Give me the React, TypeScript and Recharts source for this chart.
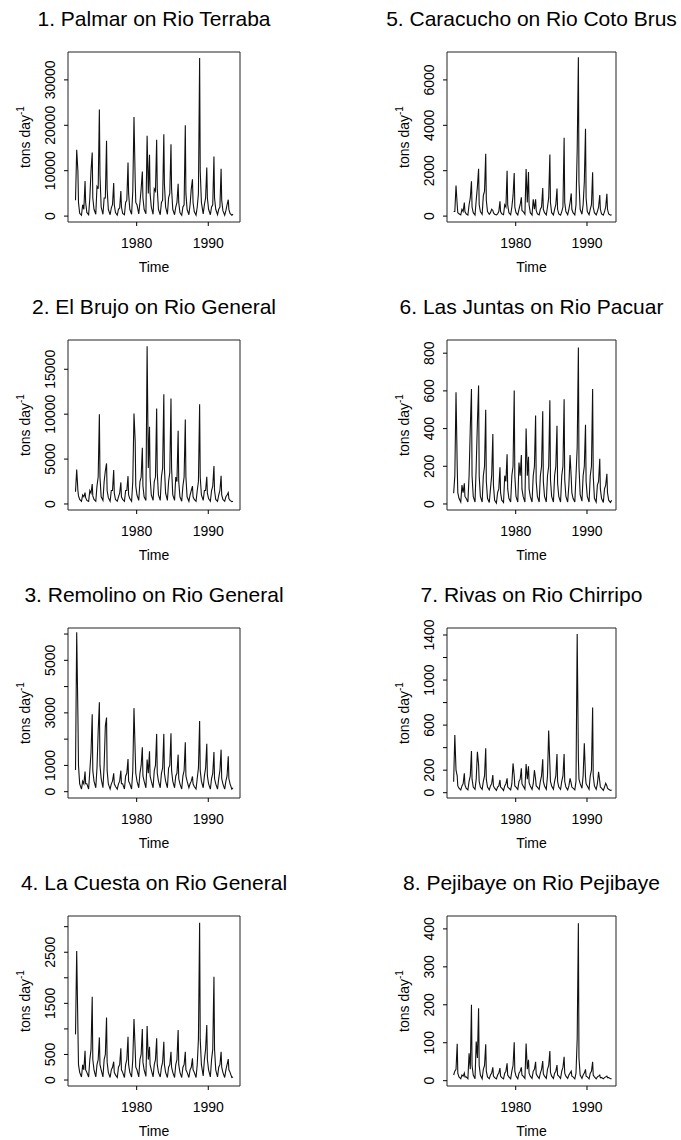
import { LineChart, Line, XAxis, YAxis, ReferenceArea } from "recharts";

const FONT = "'Liberation Sans', Arial, Helvetica, sans-serif";

// monthly series, sampled at these months of each year from 1971
const FIRST_YEAR = 1971;
const MONTHS = [1, 4, 6, 8, 10, 11];
const X_TICKS = [1980, 1990];

type Row = (number | null)[];

const PALMAR: Row[] = [
  [null, null, 3500, 14600, 10000, 3000],
  [600, 200, 2500, 1500, 7700, 3000],
  [800, 300, 4000, 10000, 14000, 4000],
  [1500, 400, 6500, 6000, 23500, 9000],
  [2000, 400, 4000, 4000, 16600, 6000],
  [1500, 300, 1800, 2500, 7300, 2500],
  [800, 200, 1500, 1800, 5500, 2000],
  [600, 300, 3000, 3500, 11800, 5000],
  [1500, 400, 5500, 21800, 8000, 3000],
  [2500, 500, 3000, 6000, 9800, 4000],
  [1500, 500, 17700, 5000, 13500, 5000],
  [2000, 400, 6000, 5500, 16800, 6000],
  [1500, 300, 3000, 3500, 18000, 7000],
  [2000, 400, 4000, 5000, 15800, 6000],
  [1500, 300, 2000, 3000, 7100, 3000],
  [800, 200, 2000, 2500, 20000, 5000],
  [1500, 300, 2500, 6000, 8100, 3000],
  [1000, 200, 2000, 5000, 34800, 10000],
  [3000, 500, 2500, 4000, 10700, 4000],
  [1500, 300, 2000, 2500, 13100, 4000],
  [1500, 300, 1500, 2000, 10400, 3500],
  [1200, 200, 1200, 2500, 3600, 1500],
  [600, 200, 400],
];

const EL_BRUJO: Row[] = [
  [null, null, 1370, 3850, 1500, 900],
  [500, 300, 1000, 800, 1260, 700],
  [400, 300, 1500, 1200, 2220, 900],
  [500, 300, 2000, 3000, 10000, 3000],
  [800, 400, 2500, 3700, 4520, 1500],
  [700, 300, 1500, 1500, 3780, 1200],
  [500, 300, 800, 1200, 2400, 800],
  [500, 300, 1500, 1500, 3100, 1000],
  [600, 300, 2500, 10070, 7000, 2000],
  [1000, 400, 2500, 3000, 6260, 2000],
  [800, 400, 17550, 4000, 8600, 3000],
  [1000, 400, 2500, 3000, 10630, 3500],
  [1000, 400, 3000, 4000, 12220, 4000],
  [1200, 400, 2500, 3500, 11740, 4000],
  [1000, 400, 3000, 2500, 8150, 2500],
  [800, 300, 2000, 3000, 9400, 3000],
  [800, 300, 1000, 1500, 2000, 800],
  [500, 300, 1500, 2500, 11110, 3000],
  [1000, 400, 1500, 1500, 3040, 1200],
  [600, 300, 1500, 2000, 4220, 1500],
  [500, 300, 1000, 1500, 3150, 1000],
  [500, 300, 800, 1000, 1260, 600],
  [400, 250, 300],
];

const REMOLINO: Row[] = [
  [null, null, 830, 6065, 2950, 1000],
  [300, 100, 400, 300, 770, 300],
  [300, 100, 800, 1500, 2950, 800],
  [400, 150, 900, 2300, 3400, 1000],
  [500, 150, 1000, 2500, 2820, 800],
  [300, 100, 300, 400, 700, 300],
  [200, 100, 300, 400, 800, 300],
  [300, 100, 600, 700, 1240, 400],
  [300, 100, 800, 3180, 1500, 700],
  [400, 150, 700, 1000, 1690, 600],
  [400, 150, 1220, 700, 1540, 600],
  [400, 150, 800, 1000, 2200, 700],
  [400, 150, 700, 900, 2200, 700],
  [400, 150, 900, 1000, 2220, 800],
  [400, 150, 600, 700, 1410, 500],
  [300, 100, 600, 800, 1880, 600],
  [400, 150, 300, 400, 580, 300],
  [200, 100, 500, 900, 2690, 800],
  [400, 150, 600, 900, 1820, 600],
  [300, 100, 500, 700, 1510, 500],
  [300, 100, 500, 800, 1600, 500],
  [300, 100, 400, 600, 1350, 500],
  [300, 100, 150],
];

const LA_CUESTA: Row[] = [
  [null, null, 893, 2523, 1010, 300],
  [150, 60, 300, 200, 574, 200],
  [150, 60, 400, 600, 1630, 400],
  [200, 60, 300, 400, 834, 300],
  [200, 60, 400, 500, 1225, 350],
  [150, 50, 200, 250, 359, 150],
  [100, 50, 250, 300, 620, 200],
  [150, 50, 300, 400, 847, 300],
  [150, 60, 400, 1193, 600, 250],
  [200, 60, 400, 500, 997, 350],
  [200, 70, 1056, 400, 650, 300],
  [200, 60, 300, 400, 815, 300],
  [150, 60, 250, 350, 750, 300],
  [150, 50, 250, 300, 554, 250],
  [150, 50, 300, 400, 978, 300],
  [150, 50, 250, 300, 554, 200],
  [150, 50, 200, 250, 424, 200],
  [150, 50, 300, 800, 3077, 800],
  [300, 80, 400, 600, 1075, 400],
  [200, 60, 400, 600, 2020, 600],
  [200, 60, 250, 300, 554, 250],
  [150, 50, 200, 300, 410, 200],
  [150, 50, 60],
];

const CARACUCHO: Row[] = [
  [null, 200, 200, 1350, 500, 150],
  [100, 50, 300, 200, 600, 200],
  [100, 50, 500, 800, 1530, 400],
  [150, 50, 700, 1300, 2090, 500],
  [200, 80, 900, 1100, 2750, 700],
  [200, 80, 150, 300, 250, 150],
  [80, 50, 100, 200, 650, 200],
  [100, 60, 500, 400, 2000, 500],
  [150, 60, 400, 900, 1900, 400],
  [150, 50, 300, 500, 830, 250],
  [200, 80, 2070, 600, 1940, 500],
  [150, 50, 740, 300, 740, 250],
  [100, 50, 300, 400, 1240, 300],
  [150, 50, 400, 800, 2710, 600],
  [150, 50, 300, 500, 1210, 300],
  [100, 40, 200, 400, 3450, 600],
  [200, 60, 300, 600, 1000, 300],
  [150, 50, 500, 2900, 7000, 1500],
  [300, 80, 500, 1500, 3850, 800],
  [200, 60, 300, 500, 1930, 400],
  [150, 50, 200, 400, 930, 300],
  [100, 40, 200, 400, 980, 300],
  [100, 40, 60],
];

const LAS_JUNTAS: Row[] = [
  [null, 57, 150, 593, 200, 60],
  [30, 10, 100, 60, 110, 40],
  [30, 10, 150, 400, 610, 150],
  [40, 10, 200, 430, 628, 150],
  [40, 10, 150, 200, 500, 120],
  [30, 8, 80, 150, 371, 100],
  [20, 5, 60, 80, 195, 60],
  [20, 8, 150, 120, 264, 80],
  [30, 10, 150, 200, 602, 150],
  [40, 10, 220, 150, 260, 80],
  [40, 10, 400, 150, 250, 80],
  [40, 10, 150, 200, 470, 120],
  [40, 10, 150, 200, 492, 120],
  [40, 10, 150, 200, 550, 130],
  [40, 10, 150, 200, 415, 110],
  [40, 10, 150, 200, 555, 130],
  [40, 10, 100, 260, 137, 60],
  [30, 10, 150, 300, 830, 200],
  [50, 15, 150, 200, 420, 120],
  [40, 10, 150, 200, 610, 150],
  [30, 10, 100, 120, 240, 80],
  [30, 8, 80, 100, 160, 60],
  [20, 8, 20],
];

const RIVAS: Row[] = [
  [null, 98, 513, 200, 150, 60],
  [40, 25, 60, 80, 172, 70],
  [40, 25, 100, 150, 370, 120],
  [50, 30, 120, 364, 250, 100],
  [50, 30, 100, 150, 394, 120],
  [50, 25, 60, 80, 157, 60],
  [40, 20, 50, 60, 113, 50],
  [40, 20, 60, 80, 127, 50],
  [40, 25, 80, 260, 150, 60],
  [50, 30, 100, 120, 216, 80],
  [60, 30, 255, 120, 235, 90],
  [60, 30, 80, 200, 120, 60],
  [50, 30, 100, 150, 296, 100],
  [60, 30, 150, 551, 250, 100],
  [60, 30, 100, 150, 344, 100],
  [50, 30, 100, 150, 344, 100],
  [50, 25, 60, 127, 80, 50],
  [40, 25, 100, 1408, 300, 120],
  [80, 40, 150, 438, 140, 80],
  [60, 30, 150, 200, 757, 150],
  [60, 30, 80, 186, 100, 50],
  [40, 20, 50, 83, 60, 40],
  [30, 20, 25],
];

const PEJIBAYE: Row[] = [
  [null, 15, 25, 30, 97, 20],
  [10, 5, 15, 12, 20, 10],
  [10, 5, 72, 30, 200, 40],
  [15, 5, 103, 60, 191, 40],
  [15, 5, 30, 40, 96, 25],
  [10, 5, 15, 20, 35, 12],
  [8, 5, 15, 20, 33, 12],
  [8, 5, 20, 25, 46, 15],
  [10, 5, 25, 40, 101, 25],
  [12, 5, 20, 25, 35, 15],
  [12, 6, 98, 30, 55, 20],
  [12, 6, 25, 30, 50, 18],
  [12, 6, 20, 30, 52, 18],
  [12, 6, 30, 40, 78, 22],
  [12, 6, 20, 25, 41, 15],
  [12, 6, 25, 35, 63, 20],
  [12, 6, 15, 20, 25, 12],
  [10, 5, 20, 110, 415, 60],
  [15, 6, 15, 20, 30, 12],
  [10, 5, 20, 25, 50, 15],
  [10, 5, 10, 12, 15, 8],
  [8, 5, 8, 10, 12, 8],
  [8, 5, 5],
];

// y tick values, and the labels R kept (blank = tick without label)
const PALMAR_TICKS = [0, 10000, 20000, 30000];
const PALMAR_LABELS = ["0", "10000", "20000", "30000"];
const EL_BRUJO_TICKS = [0, 5000, 10000, 15000];
const EL_BRUJO_LABELS = ["0", "5000", "10000", "15000"];
const REMOLINO_TICKS = [0, 1000, 2000, 3000, 4000, 5000, 6000];
const REMOLINO_LABELS = ["0", "1000", "", "3000", "", "5000", ""];
const LA_CUESTA_TICKS = [0, 500, 1000, 1500, 2000, 2500, 3000];
const LA_CUESTA_LABELS = ["0", "500", "", "1500", "", "2500", ""];
const CARACUCHO_TICKS = [0, 2000, 4000, 6000];
const CARACUCHO_LABELS = ["0", "2000", "4000", "6000"];
const LAS_JUNTAS_TICKS = [0, 200, 400, 600, 800];
const LAS_JUNTAS_LABELS = ["0", "200", "400", "600", "800"];
const RIVAS_TICKS = [0, 200, 400, 600, 800, 1000, 1200, 1400];
const RIVAS_LABELS = ["0", "200", "", "600", "", "1000", "", "1400"];
const PEJIBAYE_TICKS = [0, 100, 200, 300, 400];
const PEJIBAYE_LABELS = ["0", "100", "200", "300", "400"];

const ROW_H = 288;
const PLOT_TOP = 52;
const PLOT_H = 170;
const Y_AXIS_W = 40;
const X_AXIS_H = 40;

const COLS = [
  { left: 0, width: 340, plotLeft: 68, plotWidth: 172, xDomain: [1970.41, 1994.43] },
  { left: 340, width: 341, plotLeft: 107, plotWidth: 169, xDomain: [1970.36, 1994.07] },
];

function toSeries(rows: Row[]) {
  const out: { t: number; v: number }[] = [];
  rows.forEach((row, i) =>
    row.forEach((v, j) => {
      if (v !== null) out.push({ t: FIRST_YEAR + i + (MONTHS[j] - 0.5) / 12, v });
    })
  );
  return out;
}

interface PanelProps {
  title: string;
  rows: Row[];
  yDomain: [number, number];
  yTicks: number[];
  yLabels: string[];
  col: number;
  row: number;
}

function Panel({ title, rows, yDomain, yTicks, yLabels, col, row }: PanelProps) {
  const c = COLS[col];
  const data = toSeries(rows);
  const cx = c.plotLeft + c.plotWidth / 2;

  const renderYTick = (props: any) => {
    const { x, y, payload } = props;
    const label = yLabels[yTicks.indexOf(payload.value)] ?? "";
    return (
      <text
        x={x}
        y={y}
        transform={`rotate(-90 ${x} ${y})`}
        textAnchor="middle"
        fontSize={14}
        fontFamily={FONT}
        fill="#000"
      >
        {label}
      </text>
    );
  };

  return (
    <div
      style={{
        position: "absolute",
        left: c.left,
        top: row * ROW_H,
        width: c.width,
        height: ROW_H,
      }}
    >
      <LineChart
        width={c.width}
        height={ROW_H}
        data={data}
        margin={{
          top: PLOT_TOP,
          bottom: ROW_H - PLOT_TOP - PLOT_H - X_AXIS_H,
          left: c.plotLeft - Y_AXIS_W,
          right: c.width - c.plotLeft - c.plotWidth,
        }}
      >
        <XAxis
          dataKey="t"
          type="number"
          domain={c.xDomain}
          ticks={X_TICKS}
          interval={0}
          allowDataOverflow
          axisLine={false}
          tickSize={4}
          tickMargin={12}
          height={X_AXIS_H}
          stroke="#000"
          tick={{ fontSize: 14, fill: "#000", fontFamily: FONT }}
        />
        <YAxis
          type="number"
          domain={yDomain}
          ticks={yTicks}
          interval={0}
          allowDataOverflow
          axisLine={false}
          tickSize={4}
          tickMargin={9}
          width={Y_AXIS_W}
          stroke="#000"
          tick={renderYTick}
        />
        <ReferenceArea
          x1={c.xDomain[0]}
          x2={c.xDomain[1]}
          y1={yDomain[0]}
          y2={yDomain[1]}
          fill="none"
          stroke="#222"
          strokeWidth={1}
          ifOverflow="visible"
        />
        <Line
          type="linear"
          dataKey="v"
          stroke="#111"
          strokeWidth={1.1}
          dot={false}
          activeDot={false}
          isAnimationActive={false}
        />
      </LineChart>
      <svg
        width={c.width}
        height={ROW_H}
        style={{ position: "absolute", left: 0, top: 0, pointerEvents: "none" }}
        fontFamily={FONT}
      >
        <text x={cx} y={26} textAnchor="middle" fontSize={21} fill="#000">
          {title}
        </text>
        <text x={cx} y={272} textAnchor="middle" fontSize={14} fill="#000">
          Time
        </text>
        <text
          transform={`translate(${c.plotLeft - 38}, ${PLOT_TOP + PLOT_H / 2}) rotate(-90)`}
          textAnchor="middle"
          fontSize={14}
          fill="#000"
        >
          tons day
          <tspan dy={-6} fontSize={10}>
            -1
          </tspan>
        </text>
      </svg>
    </div>
  );
}

export default function App() {
  return (
    <div
      style={{
        position: "absolute",
        left: 0,
        top: 0,
        width: 681,
        height: 1140,
        overflow: "hidden",
        background: "#fff",
      }}
    >
      <Panel title="1. Palmar on Rio Terraba" rows={PALMAR} yDomain={[-1300, 36140]} yTicks={PALMAR_TICKS} yLabels={PALMAR_LABELS} col={0} row={0} />
      <Panel title="2. El Brujo on Rio General" rows={EL_BRUJO} yDomain={[-670, 18260]} yTicks={EL_BRUJO_TICKS} yLabels={EL_BRUJO_LABELS} col={0} row={1} />
      <Panel title="3. Remolino on Rio General" rows={REMOLINO} yDomain={[-240, 6230]} yTicks={REMOLINO_TICKS} yLabels={REMOLINO_LABELS} col={0} row={2} />
      <Panel title="4. La Cuesta on Rio General" rows={LA_CUESTA} yDomain={[-117, 3209]} yTicks={LA_CUESTA_TICKS} yLabels={LA_CUESTA_LABELS} col={0} row={3} />
      <Panel title="5. Caracucho on Rio Coto Brus" rows={CARACUCHO} yDomain={[-260, 7230]} yTicks={CARACUCHO_TICKS} yLabels={CARACUCHO_LABELS} col={1} row={0} />
      <Panel title="6. Las Juntas on Rio Pacuar" rows={LAS_JUNTAS} yDomain={[-32, 870]} yTicks={LAS_JUNTAS_TICKS} yLabels={LAS_JUNTAS_LABELS} col={1} row={1} />
      <Panel title="7. Rivas on Rio Chirripo" rows={RIVAS} yDomain={[-47, 1462]} yTicks={RIVAS_TICKS} yLabels={RIVAS_LABELS} col={1} row={2} />
      <Panel title="8. Pejibaye on Rio Pejibaye" rows={PEJIBAYE} yDomain={[-14, 434]} yTicks={PEJIBAYE_TICKS} yLabels={PEJIBAYE_LABELS} col={1} row={3} />
    </div>
  );
}
